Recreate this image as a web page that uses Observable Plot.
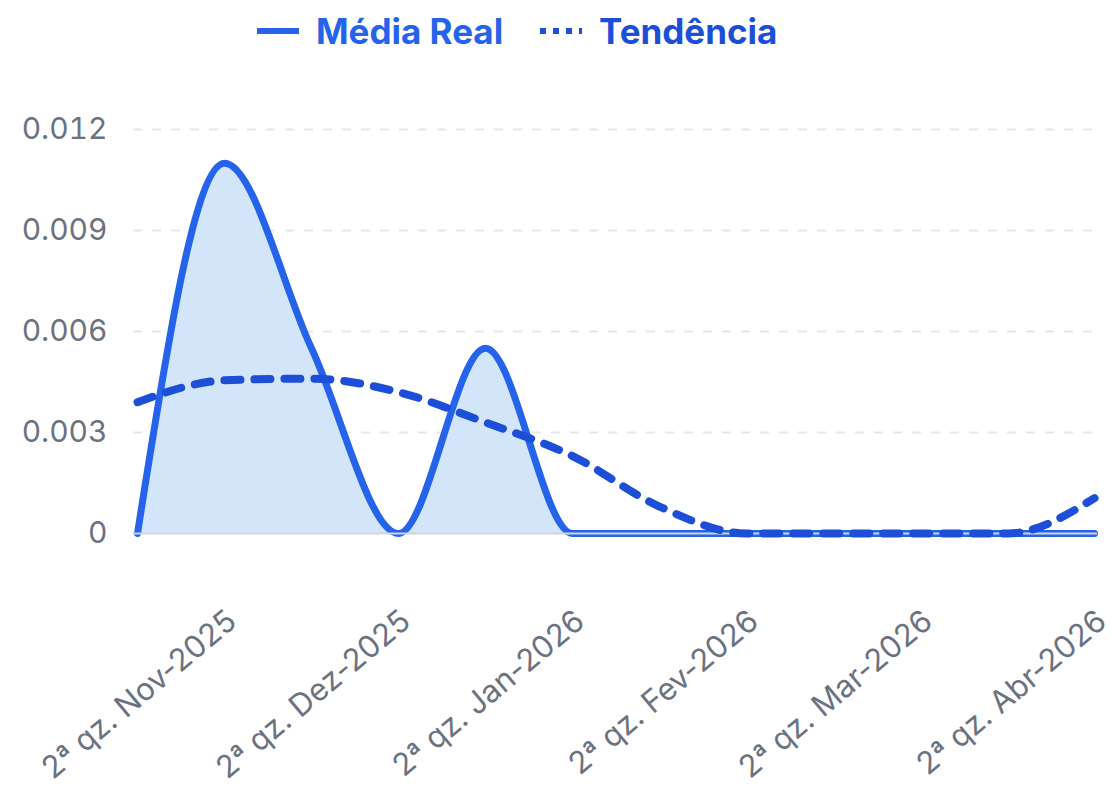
<!DOCTYPE html>
<html>
<head>
<meta charset="utf-8">
<script src="https://cdn.jsdelivr.net/npm/d3@7"></script>
<script src="https://cdn.jsdelivr.net/npm/@observablehq/plot@0.6"></script>
<style>
  html, body { margin: 0; padding: 0; background: #fff; }
  body { width: 1113px; height: 790px; overflow: hidden; font-family: Inter, "Noto Sans", sans-serif; }
  #legend { position: relative; height: 62px; }
  .item { position: absolute; top: 10px; display: flex; align-items: center; height: 42px; font-weight: 700; font-size: 35px; }
  .item svg { display: block; margin-right: 17px; }
  #chart svg { display: block; }
</style>
</head>
<body>
<div id="legend">
  <div class="item" style="left:257px;color:#2563eb">
    <svg width="42" height="10"><line x1="0" y1="5" x2="42" y2="5" stroke="#2563eb" stroke-width="6"/></svg>
    <span>Média Real</span>
  </div>
  <div class="item" style="left:540px;color:#1d4ed8">
    <svg width="42" height="10"><line x1="0" y1="5" x2="42" y2="5" stroke="#1d4ed8" stroke-width="6" stroke-dasharray="6,7"/></svg>
    <span>Tendência</span>
  </div>
</div>
<div id="chart"></div>
<script>
const labels = [
  "1ª qz. Nov-2025", "2ª qz. Nov-2025",
  "1ª qz. Dez-2025", "2ª qz. Dez-2025",
  "1ª qz. Jan-2026", "2ª qz. Jan-2026",
  "1ª qz. Fev-2026", "2ª qz. Fev-2026",
  "1ª qz. Mar-2026", "2ª qz. Mar-2026",
  "1ª qz. Abr-2026", "2ª qz. Abr-2026"
];
const mediaReal = [0, 0.011, 0.0055, 0, 0.0055, 0, 0, 0, 0, 0, 0, 0];
const tendencia = [0.0039, 0.00455, 0.0046, 0.0042, 0.0033, 0.0023, 0.0008, 0, 0, 0, 0, 0.00105];
const yTicks = [0, 0.003, 0.006, 0.009, 0.012];
const xTickLabels = labels.filter(l => l.startsWith("2ª"));

const data = labels.map((l, i) => ({label: l, media: mediaReal[i], tend: tendencia[i]}));

const chart = Plot.plot({
  width: 1113,
  height: 728,
  marginLeft: 133,
  marginRight: 16,
  marginTop: 67,
  marginBottom: 257,
  style: {fontFamily: "Inter, 'Noto Sans', sans-serif", background: "#fff"},
  x: {type: "point", domain: labels, padding: 0, axis: null},
  y: {domain: [0, 0.012]},
  marks: [
    Plot.gridY(yTicks.slice(1), {stroke: "#e5e7eb", strokeOpacity: 1, strokeWidth: 2, strokeDasharray: "9,10"}),
    Plot.areaY(data, {x: "label", y: "media", curve: "monotone-x", fill: "#d3e5f8"}),
    Plot.lineY(data, {x: "label", y: "media", curve: "monotone-x", stroke: "#2563eb", strokeWidth: 7}),
    Plot.ruleY([0], {stroke: "#d1d5db", strokeWidth: 2}),
    Plot.lineY(data, {x: "label", y: "tend", curve: "monotone-x", stroke: "#1d4ed8", strokeWidth: 8, strokeDasharray: "16,14"}),
    Plot.axisY({ticks: yTicks, tickFormat: d => d === 0 ? "0" : d.toFixed(3), tickSize: 0, tickPadding: 26, fontSize: 30, color: "#6b7280", label: null}),
    Plot.text(xTickLabels, {x: d => d, frameAnchor: "bottom", rotate: -40, textAnchor: "end", lineAnchor: "bottom", dx: 14, dy: 91, fontSize: 31, fill: "#6b7280"})
  ]
});
document.getElementById("chart").appendChild(chart);
</script>
</body>
</html>
